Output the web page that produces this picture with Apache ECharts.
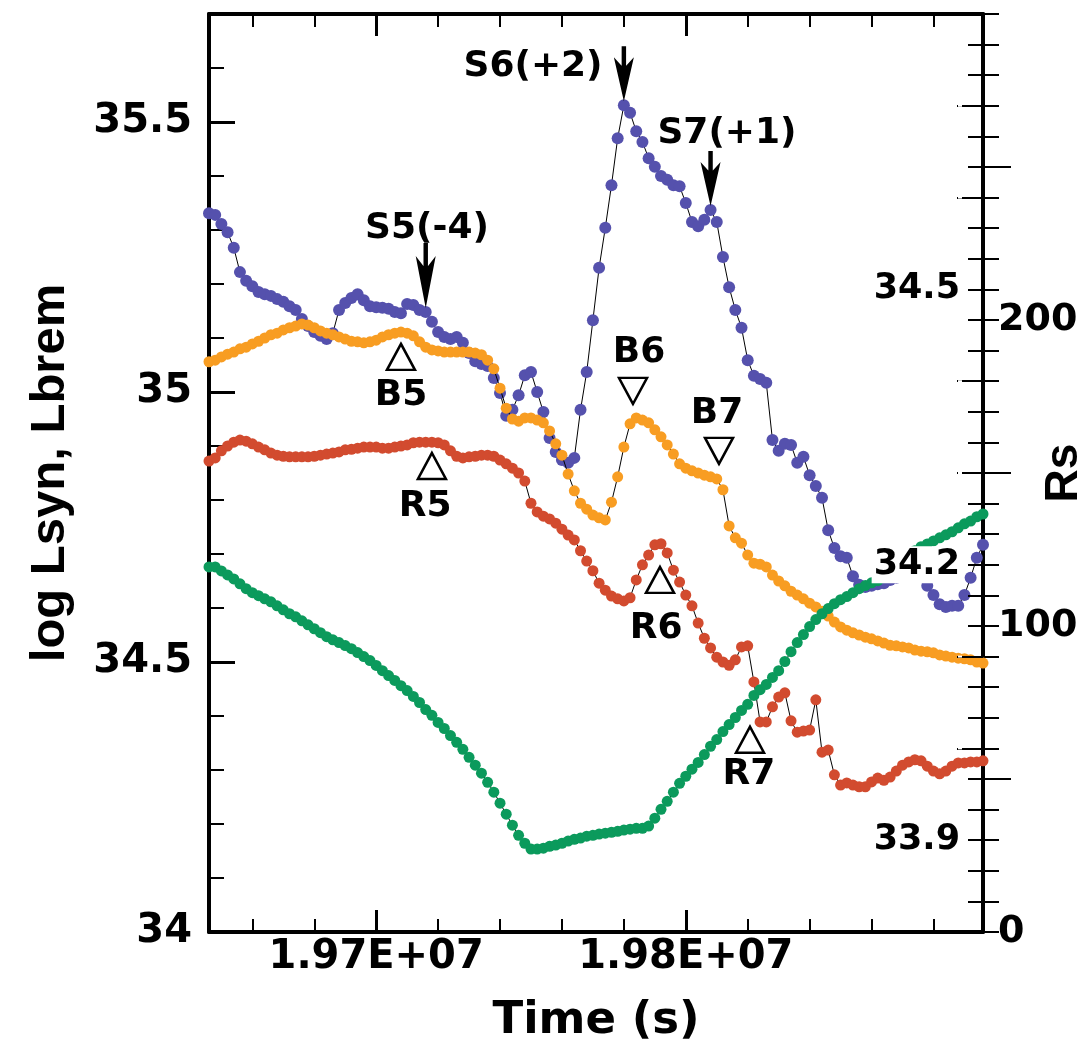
<!DOCTYPE html>
<html><head><meta charset="utf-8">
<script src="https://cdn.jsdelivr.net/npm/echarts@6/dist/echarts.min.js"></script>
<style>html,body{margin:0;padding:0;background:#fff}#c{width:1089px;height:1053px}</style>
</head><body><div id="c"></div>
<script>
// sampling of the simulation output (time axis, seconds)
const tStart = 19646000, tStep = 2000;

// log Lsyn (blue)
const lsyn = [35.331, 35.328, 35.311, 35.296, 35.267, 35.222, 35.206, 35.196, 35.185, 35.181,
 35.178, 35.172, 35.167, 35.159, 35.152, 35.135, 35.122, 35.111, 35.104, 35.098,
 35.109, 35.152, 35.165, 35.174, 35.181, 35.170, 35.159, 35.157, 35.156, 35.154,
 35.148, 35.146, 35.163, 35.161, 35.152, 35.148, 35.130, 35.111, 35.102, 35.098,
 35.102, 35.091, 35.072, 35.057, 35.052, 35.048, 35.026, 34.998, 34.956, 34.967,
 34.994, 35.031, 35.037, 35.000, 34.963, 34.915, 34.889, 34.874, 34.869, 34.878,
 34.967, 35.037, 35.133, 35.230, 35.304, 35.383, 35.470, 35.531, 35.517, 35.483,
 35.463, 35.433, 35.417, 35.400, 35.393, 35.383, 35.381, 35.350, 35.315, 35.307,
 35.319, 35.337, 35.315, 35.250, 35.194, 35.152, 35.119, 35.059, 35.030, 35.024,
 35.017, 34.911, 34.891, 34.904, 34.902, 34.869, 34.880, 34.846, 34.826, 34.804,
 34.744, 34.711, 34.696, 34.693, 34.659, 34.643, 34.639, 34.641, 34.644, 34.646,
 34.652, 34.656, 34.659, 34.663, 34.665, 34.659, 34.641, 34.624, 34.607, 34.602,
 34.604, 34.604, 34.624, 34.656, 34.693, 34.717];

// log Lbrem (orange)
const lbrem = [35.056, 35.059, 35.065, 35.070, 35.074, 35.080, 35.083, 35.089, 35.094, 35.100,
 35.106, 35.109, 35.115, 35.119, 35.122, 35.126, 35.124, 35.119, 35.113, 35.109,
 35.106, 35.102, 35.098, 35.094, 35.093, 35.091, 35.093, 35.096, 35.102, 35.106,
 35.109, 35.111, 35.109, 35.104, 35.093, 35.083, 35.078, 35.076, 35.074, 35.074,
 35.074, 35.074, 35.074, 35.072, 35.069, 35.059, 35.043, 35.007, 34.970, 34.950,
 34.946, 34.952, 34.952, 34.948, 34.943, 34.928, 34.904, 34.883, 34.848, 34.817,
 34.794, 34.783, 34.772, 34.767, 34.763, 34.796, 34.843, 34.898, 34.941, 34.952,
 34.948, 34.943, 34.930, 34.917, 34.902, 34.885, 34.867, 34.859, 34.854, 34.850,
 34.846, 34.843, 34.839, 34.819, 34.752, 34.730, 34.720, 34.698, 34.683, 34.681,
 34.676, 34.661, 34.650, 34.641, 34.631, 34.624, 34.617, 34.609, 34.602, 34.594,
 34.585, 34.574, 34.565, 34.559, 34.554, 34.550, 34.546, 34.543, 34.539, 34.535,
 34.531, 34.530, 34.528, 34.526, 34.522, 34.520, 34.519, 34.517, 34.513, 34.511,
 34.509, 34.507, 34.506, 34.504, 34.500, 34.498];

// red series
const lred = [34.872, 34.878, 34.891, 34.900, 34.907, 34.911, 34.909, 34.904, 34.898, 34.893,
 34.887, 34.883, 34.881, 34.880, 34.880, 34.880, 34.880, 34.881, 34.883, 34.885,
 34.887, 34.889, 34.893, 34.894, 34.896, 34.898, 34.898, 34.898, 34.896, 34.896,
 34.898, 34.900, 34.902, 34.906, 34.907, 34.907, 34.907, 34.906, 34.902, 34.891,
 34.881, 34.878, 34.880, 34.881, 34.883, 34.883, 34.881, 34.874, 34.867, 34.859,
 34.850, 34.835, 34.794, 34.778, 34.770, 34.765, 34.757, 34.746, 34.735, 34.726,
 34.706, 34.687, 34.669, 34.646, 34.633, 34.622, 34.617, 34.613, 34.619, 34.652,
 34.680, 34.698, 34.717, 34.719, 34.702, 34.670, 34.648, 34.624, 34.604, 34.572,
 34.544, 34.526, 34.509, 34.500, 34.494, 34.504, 34.528, 34.530, 34.463, 34.389,
 34.389, 34.417, 34.435, 34.443, 34.391, 34.370, 34.372, 34.374, 34.430, 34.333,
 34.337, 34.291, 34.272, 34.276, 34.272, 34.269, 34.269, 34.278, 34.285, 34.281,
 34.287, 34.298, 34.309, 34.315, 34.319, 34.317, 34.307, 34.298, 34.293, 34.298,
 34.307, 34.313, 34.313, 34.315, 34.315, 34.317];

// Rs (green, right axis)
const rs = [119.3, 119.3, 118.0, 116.7, 115.4, 113.8, 112.2, 110.9, 109.9, 108.9,
 107.9, 106.6, 105.3, 104.0, 103.0, 101.7, 100.4, 99.1, 97.8, 96.5,
 95.5, 94.6, 93.6, 92.6, 91.3, 90.0, 88.7, 87.1, 85.4, 83.8,
 82.2, 80.5, 78.9, 77.0, 75.0, 72.7, 70.8, 68.5, 66.5, 64.2,
 62.0, 59.7, 57.1, 54.5, 51.9, 48.9, 45.7, 42.1, 38.5, 34.9,
 31.6, 29.0, 27.1, 27.1, 27.4, 28.0, 28.4, 29.0, 29.7, 30.3,
 30.7, 31.3, 31.6, 32.0, 32.3, 32.6, 32.9, 33.3, 33.6, 33.9,
 33.9, 34.6, 37.2, 40.1, 42.7, 45.7, 48.6, 50.9, 53.2, 55.4,
 58.0, 60.7, 62.9, 65.5, 67.8, 70.1, 72.4, 74.4, 77.3, 79.2,
 80.9, 83.2, 85.4, 88.4, 91.6, 94.6, 97.2, 99.8, 102.1, 104.0,
 105.7, 107.3, 108.6, 109.6, 110.9, 112.2, 113.2, 114.1, 114.8, 115.8,
 117.4, 119.3, 121.3, 122.9, 124.6, 125.9, 126.8, 127.8, 128.8, 129.8,
 130.8, 132.1, 133.4, 134.3, 135.7, 136.6];

// axis ticks and labels
const xMin = 19646000, xMax = 19896000;
const xTickValues = [19700000, 19800000];
const xTickLabels = ['1.97E+07', '1.98E+07'];
const xMinorTicks = [19660000, 19680000, 19720000, 19740000, 19760000, 19780000, 19820000, 19840000, 19860000, 19880000];
const innerLabelValues = [33.9, 34.2, 34.5];
const innerLongTicks = [34.0, 34.1, 34.3, 34.4, 34.6, 34.7];
const rsLabelValues = [0, 100, 200];
const rsLongTicks = [50, 150, 250];

// annotations (data coordinates)
const textNotes = [
  {text: 'S5(-4)', t: 19716400, v: 35.302},
  {text: 'S6(+2)', t: 19750650, v: 35.602},
  {text: 'S7(+1)', t: 19813300, v: 35.478},
  {text: 'B5', t: 19708000, v: 34.994},
  {text: 'R5', t: 19715800, v: 34.787},
  {text: 'B6', t: 19784900, v: 35.072},
  {text: 'B7', t: 19810100, v: 34.959},
  {text: 'R6', t: 19790400, v: 34.561},
  {text: 'R7', t: 19820400, v: 34.291}
];
const triangleNotes = [
  {dir: 'up', t: 19708000, v: 35.065},
  {dir: 'up', t: 19718000, v: 34.863},
  {dir: 'down', t: 19782950, v: 35.002},
  {dir: 'down', t: 19810730, v: 34.891},
  {dir: 'up', t: 19791670, v: 34.652},
  {dir: 'up', t: 19820740, v: 34.356}
];
const arrowNotes = [{index: 35, len: 65}, {index: 67, len: 55}, {index: 81, len: 55}];

const times = lsyn.map((_, i) => tStart + i * tStep);

const NUM = 'DejaVu Sans';
const TITLE = "'Liberation Sans', Arial, sans-serif";
const BLACK = '#000';

function lineSeries(name, vals, color, yAxisIndex, z, size) {
  return {
    name, type: 'line', xAxisIndex: 0, yAxisIndex,
    data: vals.map((v, i) => [times[i], v]),
    symbol: 'circle', symbolSize: size, showAllSymbol: true,
    lineStyle: {color: BLACK, width: 1},
    itemStyle: {color, opacity: 1},
    emphasis: {disabled: true},
    z
  };
}

const arrowPath = 'path://M8,0L12,0L12,40L8,40Z M10,100L1,20L10,40L19,20Z';

const noteData = [];
textNotes.forEach(n => noteData.push({
  value: [n.t, n.v], symbol: 'circle', symbolSize: 1,
  itemStyle: {color: 'rgba(0,0,0,0)', opacity: 1},
  label: {show: true, position: 'inside', formatter: n.text, fontFamily: NUM, fontWeight: 'bold', fontSize: 36,
    color: '#000', textBorderWidth: 0, opacity: 1}
}));
triangleNotes.forEach(n => noteData.push({
  value: [n.t, n.v], symbol: 'triangle', symbolSize: [28, 26], symbolRotate: n.dir === 'down' ? 180 : 0,
  itemStyle: {color: '#fff', borderColor: BLACK, borderWidth: 2.5, opacity: 1},
  label: {show: false}
}));
arrowNotes.forEach(n => noteData.push({
  value: [times[n.index], lsyn[n.index]], symbol: arrowPath, symbolSize: [20, n.len],
  symbolOffset: [0, -(n.len / 2 + 4)],
  itemStyle: {color: BLACK, opacity: 1},
  label: {show: false}
}));

const xBase = {type: 'value', min: xMin, max: xMax, splitLine: {show: false}};
const tickLine = {color: BLACK, width: 2};

const option = {
  animation: false,
  backgroundColor: '#fff',
  grid: {left: 209, top: 14, width: 774, height: 918, show: false, containLabel: false, outerBoundsMode: 'none'},
  xAxis: [
    Object.assign({}, xBase, {
      position: 'bottom',
      axisLine: {show: true, lineStyle: {color: BLACK, width: 4}},
      axisTick: {show: true, inside: true, length: 22, customValues: xTickValues, lineStyle: {color: BLACK, width: 3}},
      axisLabel: {show: true, customValues: xTickValues, margin: 6,
        formatter: v => { const k = xTickValues.indexOf(v); return k >= 0 ? xTickLabels[k] : ''; },
        fontFamily: NUM, fontWeight: 'bold', fontSize: 40, color: BLACK},
      name: 'Time (s)', nameLocation: 'middle', nameGap: 67, nameMoveOverlap: false,
      nameTextStyle: {fontFamily: NUM, fontWeight: 'bold', fontSize: 45, color: BLACK}
    }),
    Object.assign({}, xBase, {
      position: 'bottom', axisLine: {show: false},
      axisTick: {show: true, inside: true, length: 13, customValues: xMinorTicks, lineStyle: tickLine},
      axisLabel: {show: false}
    }),
    Object.assign({}, xBase, {
      position: 'top',
      axisLine: {show: true, lineStyle: {color: BLACK, width: 4}},
      axisTick: {show: true, inside: true, length: 22, customValues: xTickValues, lineStyle: {color: BLACK, width: 3}},
      axisLabel: {show: false}
    }),
    Object.assign({}, xBase, {
      position: 'top', axisLine: {show: false},
      axisTick: {show: true, inside: true, length: 13, customValues: xMinorTicks, lineStyle: tickLine},
      axisLabel: {show: false}
    })
  ],
  yAxis: [
    { // 0: left, log L
      type: 'value', position: 'left', offset: 0, min: 34, max: 35.7, interval: 0.5,
      splitLine: {show: false},
      axisLine: {show: true, lineStyle: {color: BLACK, width: 4}},
      axisTick: {show: true, inside: true, length: 26, lineStyle: {color: BLACK, width: 3}},
      axisLabel: {margin: 17, showMaxLabel: false, fontFamily: NUM, fontWeight: 'bold', fontSize: 40, color: BLACK,
        formatter: v => String(Math.round(v * 10) / 10)},
      name: 'log Lsyn, Lbrem', nameLocation: 'middle', nameRotate: 90, nameGap: 134, nameMoveOverlap: false,
      nameTextStyle: {fontFamily: TITLE, fontWeight: 'bold', fontSize: 49, color: BLACK}
    },
    { // 1: left minor ticks
      type: 'value', position: 'left', offset: 0, min: 34, max: 35.7, interval: 0.1,
      splitLine: {show: false}, axisLine: {show: false},
      axisTick: {show: true, inside: true, length: 15, lineStyle: tickLine},
      axisLabel: {show: false}
    },
    { // 2: right, Rs
      type: 'value', position: 'right', offset: 0, min: 0, max: 300, interval: 100,
      splitLine: {show: false},
      axisLine: {show: true, lineStyle: {color: BLACK, width: 4}},
      axisTick: {show: true, inside: false, length: 16, lineStyle: tickLine},
      minorTick: {show: true, splitNumber: 10, length: 16, lineStyle: tickLine},
      axisLabel: {margin: 15, showMaxLabel: false, fontFamily: NUM, fontWeight: 'bold', fontSize: 38, color: BLACK,
        formatter: v => rsLabelValues.includes(v) ? String(v) : ''},
      name: 'Rs', nameLocation: 'middle', nameRotate: 90, nameGap: 58, nameMoveOverlap: false,
      nameTextStyle: {fontFamily: TITLE, fontWeight: 'bold', fontSize: 46, color: BLACK}
    },
    { // 3: right, Rs long ticks
      type: 'value', position: 'right', offset: 0, min: 0, max: 300,
      splitLine: {show: false}, axisLine: {show: false},
      axisTick: {show: true, inside: false, length: 28, customValues: rsLongTicks, lineStyle: tickLine},
      axisLabel: {show: false}
    },
    { // 4: inner scale, ticks inward
      type: 'value', position: 'right', offset: 0, min: 33.8, max: 34.8, interval: 0.1, z: 10,
      splitLine: {show: false}, axisLine: {show: false},
      axisTick: {show: true, inside: true, length: 15, lineStyle: tickLine},
      minorTick: {show: true, splitNumber: 3, length: 15, lineStyle: tickLine},
      axisLabel: {inside: true, margin: 21, showMinLabel: false, showMaxLabel: false,
        fontFamily: NUM, fontWeight: 'bold', fontSize: 35, color: BLACK, backgroundColor: '#fff', padding: [1, 2],
        formatter: v => { const r = Math.round(v * 10) / 10; return innerLabelValues.includes(r) ? r.toFixed(1) : ''; }}
    },
    { // 5: inner scale, long ticks
      type: 'value', position: 'right', offset: 0, min: 33.8, max: 34.8, z: 10,
      splitLine: {show: false}, axisLine: {show: false},
      axisTick: {show: true, inside: true, length: 26, customValues: innerLongTicks, lineStyle: tickLine},
      axisLabel: {show: false}
    }
  ],
  series: [
    lineSeries('red', lred, '#d24b2f', 0, 2, 11),
    lineSeries('Lsyn', lsyn, '#5551ad', 0, 3, 12),
    lineSeries('Lbrem', lbrem, '#f89d22', 0, 4, 11),
    lineSeries('Rs', rs, '#0b9a5c', 2, 5, 11),
    {
      name: 'notes', type: 'scatter', xAxisIndex: 0, yAxisIndex: 0, z: 8,
      data: noteData, emphasis: {disabled: true}, silent: true
    }
  ]
};

const chart = echarts.init(document.getElementById('c'), null, {renderer: 'canvas'});
chart.setOption(option);
</script>
</body></html>
